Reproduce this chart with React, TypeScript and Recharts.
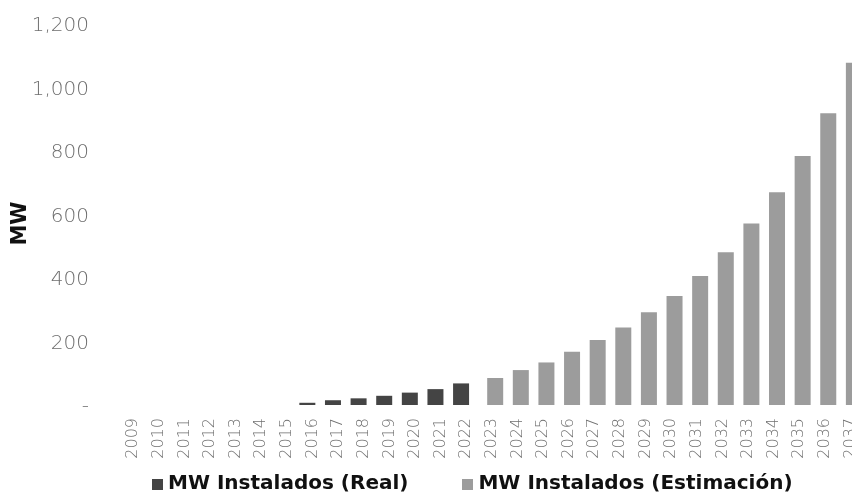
import React from "react";
import { BarChart, Bar, XAxis, YAxis } from "recharts";

// Installed capacity per year, MW
const years = [
  "2009", "2010", "2011", "2012", "2013", "2014", "2015", "2016", "2017", "2018",
  "2019", "2020", "2021", "2022", "2023", "2024", "2025", "2026", "2027", "2028",
  "2029", "2030", "2031", "2032", "2033", "2034", "2035", "2036", "2037",
];

const realMw = [
  null, null, null, null, null, null, null, 7, 15, 21,
  29, 39, 50, 68, null, null, null, null, null, null,
  null, null, null, null, null, null, null, null, null,
];

const estimatedMw = [
  null, null, null, null, null, null, null, null, null, null,
  null, null, null, null, 85, 110, 134, 168, 205, 244,
  292, 343, 406, 481, 572, 670, 784, 919, 1078,
];

const yTicks = [0, 200, 400, 600, 800, 1000, 1200];

const series = [
  { key: "real", name: "MW Instalados (Real)", color: "#444444" },
  { key: "est", name: "MW Instalados (Estimación)", color: "#9c9c9c" },
];

const data = years.map((year, i) => ({
  year,
  real: realMw[i],
  est: estimatedMw[i],
}));

const tickFont = { fontFamily: "'DejaVu Sans', sans-serif", fontWeight: 200 };

const formatMw = (v: number) => (v === 0 ? "-" : v.toLocaleString("en-US"));

const YearTick = ({ x, y, payload }: any) => (
  <g transform={`translate(${x},${y})`}>
    <text
      transform="rotate(-90)"
      textAnchor="end"
      dominantBaseline="central"
      fill="#707070"
      fontSize={16}
      {...tickFont}
    >
      {payload.value}
    </text>
  </g>
);

const AxisTitle = ({ viewBox }: any) => {
  const cx = viewBox.x + 11;
  const cy = viewBox.y + viewBox.height / 2 + 9;
  return (
    <text
      x={cx}
      y={cy}
      transform={`rotate(-90, ${cx}, ${cy})`}
      textAnchor="middle"
      dominantBaseline="central"
      fontFamily="'DejaVu Sans', sans-serif"
      fontWeight="bold"
      fontSize={21}
      fill="#111"
    >
      MW
    </text>
  );
};

export default function App() {
  return (
    // the chart runs past the right edge, so it sits in a fixed, clipped frame
    <div style={{ position: "fixed", left: 0, top: 0, width: 852, height: 492, overflow: "hidden" }}>
      <div style={{ position: "absolute", left: 8, top: 8 }}>
        <BarChart
          width={857}
          height={467}
          data={data}
          barGap={-7.5}
          margin={{ top: 16, right: 3, bottom: 0, left: 0 }}
        >
          <YAxis
            width={111}
            domain={[0, 1200]}
            ticks={yTicks}
            tickFormatter={formatMw}
            axisLine={false}
            tickLine={false}
            tickSize={0}
            tickMargin={30}
            tick={{ fill: "#6e6e6e", fontSize: 20, ...tickFont }}
            label={<AxisTitle />}
          />
          <XAxis
            dataKey="year"
            interval={0}
            height={70}
            axisLine={false}
            tickLine={false}
            tickSize={0}
            tickMargin={13}
            tick={<YearTick />}
          />
          {series.map((s) => (
            <Bar
              key={s.key}
              dataKey={s.key}
              name={s.name}
              fill={s.color}
              barSize={16}
              isAnimationActive={false}
            />
          ))}
        </BarChart>
        <div
          style={{
            position: "absolute",
            top: 464,
            left: 144,
            display: "flex",
            fontFamily: "'DejaVu Sans', sans-serif",
            fontWeight: "bold",
            fontSize: 20,
            lineHeight: "20px",
            color: "#111",
            whiteSpace: "nowrap",
          }}
        >
          {series.map((s, i) => (
            <div
              key={s.key}
              style={{ display: "flex", alignItems: "flex-end", marginRight: i === 0 ? 54 : 0 }}
            >
              <span
                style={{
                  display: "inline-block",
                  width: 11,
                  height: 11,
                  background: s.color,
                  marginRight: 5,
                  marginBottom: 2,
                }}
              />
              <span>{s.name}</span>
            </div>
          ))}
        </div>
      </div>
    </div>
  );
}
